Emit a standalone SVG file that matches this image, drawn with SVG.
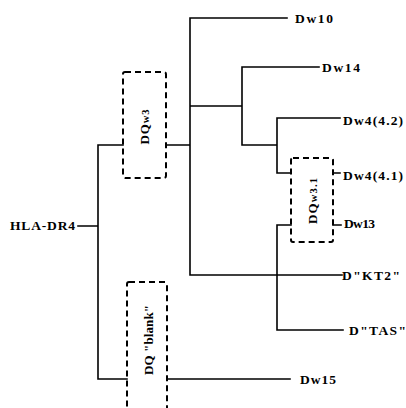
<svg xmlns="http://www.w3.org/2000/svg" width="406" height="408" viewBox="0 0 406 408">
<style>
.c{fill:none;stroke:#000;stroke-width:1.6;stroke-linecap:square}
.b{fill:none;stroke:#000;stroke-width:2;stroke-dasharray:6 4}
text{font-family:"Liberation Serif","Times New Roman",serif;font-weight:bold;font-size:13.5px;fill:#000}
.r{text-anchor:middle;font-size:13px}
.s{font-size:10.5px}
</style>
<rect width="406" height="408" fill="#fff"/>
<g id="connectors">
<path class="c" d="M78,226H98M98,145V379M98,145H123M166,145H190M190,18V275M190,18H287M190,106H242M242,67V145M242,67H319M242,145H277M277,118V173M277,118H340M277,173H291M333,173H340M277,225V330M277,225H291M333,225H341M190,275H342M277,330H343M98,379H127M167,379H290"/>
</g>
<g id="HLA-DR4"><text x="10" y="230" textLength="65" lengthAdjust="spacing">HLA-DR4</text></g>
<g id="DQw3"><rect class="b" x="123" y="72" width="43" height="106" rx="2"/><text class="r" transform="translate(148.5,127) rotate(-90)" textLength="35" lengthAdjust="spacing">DQ<tspan class="s">w3</tspan></text></g>
<g id="DQw3.1"><rect class="b" x="291" y="158" width="42" height="84" rx="2"/><text class="r" transform="translate(316.5,201) rotate(-90)" textLength="46" lengthAdjust="spacing">DQ<tspan class="s">w3.1</tspan></text></g>
<g id="DQblank"><rect class="b" x="127" y="282" width="40" height="130" rx="2"/><text class="r" transform="translate(152.5,340) rotate(-90)" textLength="70" lengthAdjust="spacing">DQ "blank"</text></g>
<g id="Dw10"><text x="295" y="22.5" textLength="38" lengthAdjust="spacing">Dw10</text></g>
<g id="Dw14"><text x="322" y="71.5" textLength="38" lengthAdjust="spacing">Dw14</text></g>
<g id="Dw4-4.2"><text x="343" y="124.5" textLength="60" lengthAdjust="spacing">Dw4(4.2)</text></g>
<g id="Dw4-4.1"><text x="343" y="179.5" textLength="60" lengthAdjust="spacing">Dw4(4.1)</text></g>
<g id="Dw13"><text x="344" y="227.5" textLength="31" lengthAdjust="spacing">Dw13</text></g>
<g id="DKT2"><text x="342" y="279.5" textLength="58" lengthAdjust="spacing">D"KT2"</text></g>
<g id="DTAS"><text x="349" y="334.5" textLength="57" lengthAdjust="spacing">D"TAS"</text></g>
<g id="Dw15"><text x="300" y="383.5" textLength="36" lengthAdjust="spacing">Dw15</text></g>
</svg>
